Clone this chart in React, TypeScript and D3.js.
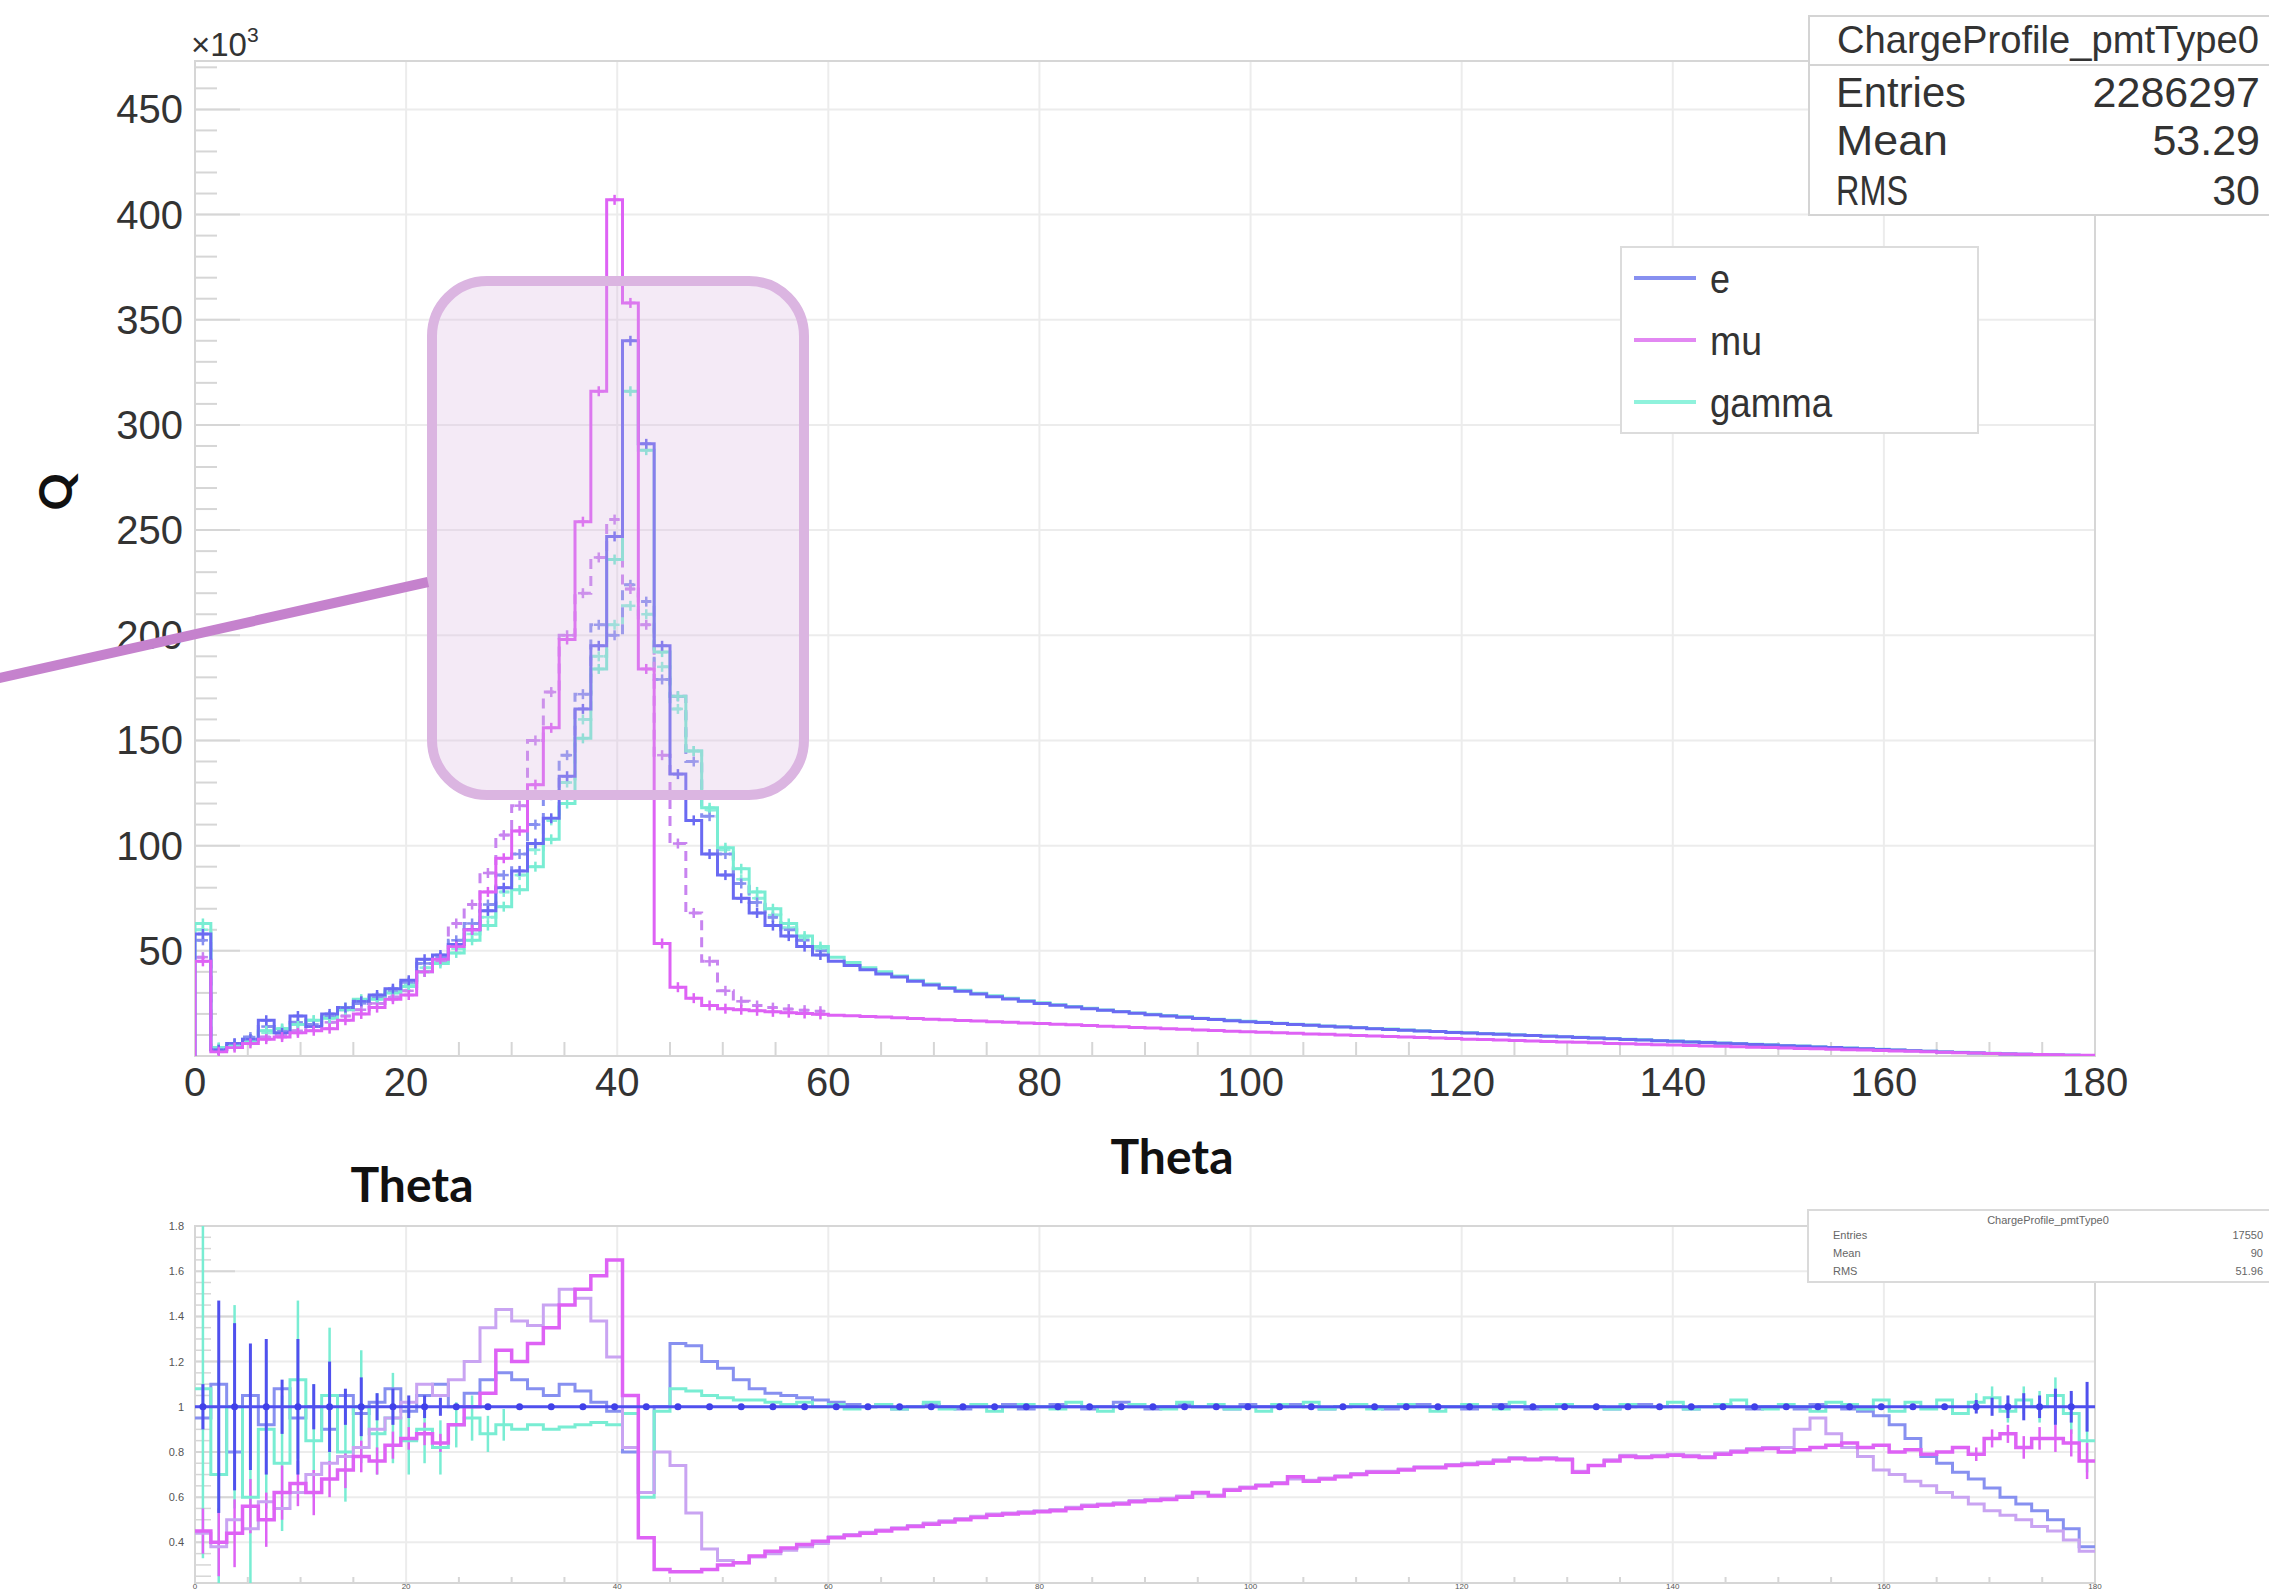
import React from "react";
import * as d3 from "d3";

// ---------------- data ----------------
const binWidth = 1.5; // degrees per bin, 120 bins over 0..180
const xTickValues = [0, 20, 40, 60, 80, 100, 120, 140, 160, 180];
const yTickValues = [50, 100, 150, 200, 250, 300, 350, 400, 450];
const ratioTickValues = [0.4, 0.6, 0.8, 1, 1.2, 1.4, 1.6, 1.8];
const legendLabels = ["e", "mu", "gamma"];
const statsRows = [
  ["Entries", "2286297"],
  ["Mean", "53.29"],
  ["RMS", "30"],
];
const statsRowsLower = [
  ["Entries", "17550"],
  ["Mean", "90"],
  ["RMS", "51.96"],
];

// main plot (values in units of 10^3)
const muSolid = [
  45, 2, 4, 6, 8, 9, 11, 12, 13, 17,
  20, 23, 27, 29, 40, 46, 52, 60, 78, 94,
  107, 129, 156, 198, 254, 316, 407, 358, 184, 53.5,
  32.7, 27.5, 24, 22.5, 22, 21.5, 21, 20.6, 20.2, 19.8,
  19.4, 19.1, 18.8, 18.5, 18.2, 17.8, 17.5, 17.2, 16.9, 16.6,
  16.3, 16.0, 15.7, 15.4, 15.1, 14.8, 14.5, 14.2, 13.9, 13.6,
  13.3, 13.0, 12.7, 12.4, 12.1, 11.8, 11.5, 11.3, 11.0, 10.8,
  10.5, 10.3, 10.0, 9.8, 9.5, 9.3, 9.0, 8.8, 8.5, 8.3,
  8.0, 7.8, 7.6, 7.4, 7.1, 6.9, 6.7, 6.5, 6.3, 6.0,
  5.8, 5.6, 5.4, 5.2, 5.0, 4.8, 4.6, 4.4, 4.2, 4.0,
  3.8, 3.6, 3.4, 3.2, 3.0, 2.8, 2.6, 2.4, 2.2, 2.0,
  1.8, 1.6, 1.4, 1.2, 1.0, 0.85, 0.7, 0.55, 0.4, 0.3,
];
const eSolid = [
  58, 3, 6, 8, 17, 11, 19, 14, 20, 23,
  26, 29, 32, 36, 46, 48, 53, 60, 69, 80,
  88, 101, 113, 133, 165, 195, 247, 340, 291, 195,
  134, 112, 96, 86, 75, 68, 62, 57, 52, 48,
  45, 43, 41, 39, 37.5, 35.5, 33.8, 32.2, 30.8, 29.5,
  28.2, 27.1, 26.0, 25.0, 24.1, 23.3, 22.5, 21.7, 21.0, 20.3,
  19.6, 19.0, 18.4, 17.8, 17.3, 16.8, 16.3, 15.9, 15.4, 15.0,
  14.6, 14.2, 13.8, 13.4, 13.0, 12.6, 12.3, 11.9, 11.6, 11.2,
  10.9, 10.6, 10.3, 10.0, 9.7, 9.4, 9.1, 8.8, 8.5, 8.2,
  7.9, 7.6, 7.3, 7.0, 6.7, 6.4, 6.1, 5.8, 5.5, 5.2,
  4.9, 4.6, 4.3, 4.0, 3.7, 3.4, 3.1, 2.8, 2.5, 2.2,
  1.95, 1.7, 1.45, 1.2, 1.0, 0.8, 0.6, 0.45, 0.3, 0.15,
];
const gammaSolid = [
  63, 4, 5, 7, 12, 13, 15, 17, 18, 22,
  27, 27, 30, 33, 40, 44, 49, 55, 62, 71,
  79, 90, 103, 120, 151, 184, 236, 316, 288, 192,
  171, 145, 118, 99, 89, 78, 70, 63, 57, 52,
  47, 44.5, 42, 40, 38, 36, 34.2, 32.6, 31.2, 29.8,
  28.6, 27.4, 26.3, 25.3, 24.4, 23.5, 22.7, 21.9, 21.2, 20.5,
  19.8, 19.2, 18.6, 18.0, 17.5, 17.0, 16.5, 16.0, 15.6, 15.1,
  14.7, 14.3, 13.9, 13.5, 13.1, 12.8, 12.4, 12.0, 11.7, 11.3,
  11.0, 10.7, 10.4, 10.1, 9.8, 9.5, 9.2, 8.9, 8.6, 8.3,
  8.0, 7.7, 7.4, 7.1, 6.8, 6.5, 6.2, 5.9, 5.6, 5.3,
  5.0, 4.7, 4.4, 4.1, 3.8, 3.5, 3.2, 2.9, 2.6, 2.3,
  2.0, 1.75, 1.5, 1.25, 1.05, 0.85, 0.65, 0.5, 0.35, 0.2,
];
// dashed companions, visible over 0..60 degrees (40 bins)
const muDashed = [
  47, 3, 5, 7, 9, 10, 12, 14, 16, 19,
  22, 25, 28, 31, 40, 45, 63, 72, 87, 105,
  119, 150, 173, 200, 220, 237, 255, 222, 205, 143,
  101, 68, 45, 31, 26, 24, 23, 22.3, 21.8, 21.3,
];
const eDashed = [
  55, 3, 6, 9, 14, 12, 16, 15, 19, 22,
  25, 28, 31, 35, 44, 47, 55, 63, 72, 86,
  96, 110, 124, 143, 172, 205, 200, 224, 216, 179,
  171, 140, 114, 96, 82, 73, 66, 60, 55, 50,
];
const gammaDashed = [
  60, 4, 5, 8, 11, 13, 15, 17, 19, 23,
  26, 28, 31, 34, 42, 45, 51, 58, 66, 78,
  86, 98, 112, 130, 160, 190, 205, 214, 210, 185,
  165, 145, 117, 98, 84, 75, 67, 61, 56, 51,
];

// lower (ratio) plot
const ratioMu = [
  0.45, 0.40, 0.44, 0.56, 0.50, 0.62, 0.66, 0.62, 0.68, 0.72,
  0.78, 0.76, 0.83, 0.86, 0.88, 0.84, 0.92, 1.0, 1.06, 1.25,
  1.2, 1.28, 1.35, 1.45, 1.52, 1.58, 1.65, 1.05, 0.42, 0.28,
  0.27, 0.27, 0.28, 0.30, 0.31, 0.34, 0.36, 0.375, 0.39, 0.405,
  0.42, 0.43, 0.44, 0.45, 0.46, 0.47, 0.48, 0.49, 0.50, 0.51,
  0.52, 0.525, 0.53, 0.535, 0.54, 0.55, 0.56, 0.565, 0.57, 0.58,
  0.585, 0.59, 0.60, 0.62, 0.605, 0.63, 0.64, 0.65, 0.66, 0.69,
  0.67, 0.68, 0.69, 0.70, 0.71, 0.71, 0.72, 0.73, 0.73, 0.74,
  0.745, 0.75, 0.76, 0.77, 0.765, 0.77, 0.765, 0.71, 0.74, 0.76,
  0.78, 0.775, 0.78, 0.785, 0.78, 0.775, 0.79, 0.80, 0.81, 0.815,
  0.80, 0.81, 0.82, 0.83, 0.84, 0.82, 0.83, 0.80, 0.81, 0.79,
  0.80, 0.82, 0.79, 0.86, 0.88, 0.82, 0.86, 0.86, 0.84, 0.76,
];
const ratioMuDashed = [
  0.44, 0.38, 0.50, 0.46, 0.58, 0.55, 0.62, 0.70, 0.75, 0.78,
  0.82, 0.90, 0.95, 1.02, 1.10, 1.05, 1.12, 1.20, 1.35, 1.43,
  1.38, 1.36, 1.45, 1.52, 1.48, 1.38, 1.22, 0.82, 0.62, 0.80,
  0.74, 0.53, 0.37, 0.32, 0.31, 0.335, 0.35, 0.365, 0.38, 0.395,
  0.425, 0.435, 0.445, 0.455, 0.465, 0.475, 0.485, 0.495, 0.505, 0.515,
  0.525, 0.53, 0.535, 0.54, 0.545, 0.555, 0.565, 0.57, 0.575, 0.585,
  0.59, 0.595, 0.605, 0.615, 0.61, 0.635, 0.645, 0.655, 0.665, 0.68,
  0.675, 0.685, 0.695, 0.705, 0.715, 0.715, 0.725, 0.735, 0.735, 0.745,
  0.75, 0.755, 0.765, 0.775, 0.77, 0.775, 0.77, 0.715, 0.74, 0.765,
  0.785, 0.78, 0.785, 0.79, 0.785, 0.78, 0.795, 0.805, 0.815, 0.82,
  0.82, 0.90, 0.95, 0.88, 0.82, 0.78, 0.72, 0.70, 0.67, 0.65,
  0.62, 0.60, 0.57, 0.54, 0.52, 0.50, 0.47, 0.45, 0.41, 0.36,
];
const ratioGamma = [
  1.08, 0.70, 1.00, 0.60, 0.90, 0.75, 1.12, 0.85, 1.05, 0.80,
  1.00, 0.88, 0.95, 0.85, 0.90, 0.82, 0.92, 0.95, 0.88, 0.92,
  0.90, 0.92, 0.90, 0.91, 0.92, 0.93, 0.92, 0.97, 0.60, 0.98,
  1.08, 1.07, 1.05, 1.04, 1.03, 1.03, 1.02, 1.01, 1.02, 1.00,
  1.01, 0.99, 1.00, 1.01, 0.99, 1.00, 1.02, 0.99, 1.00, 1.01,
  0.98, 1.00, 1.01, 1.00, 0.99, 1.02, 1.00, 0.98, 1.00, 1.01,
  1.00, 0.99, 1.02, 1.00, 1.01, 0.99, 1.00, 0.98, 1.01, 1.00,
  1.02, 0.99, 1.00, 1.01, 0.99, 1.00, 1.01, 1.00, 0.98, 1.00,
  1.01, 1.00, 0.99, 1.02, 1.00, 0.99, 1.01, 1.00, 1.00, 0.99,
  1.01, 1.00, 1.00, 1.02, 0.99, 1.00, 1.01, 1.03, 1.00, 0.99,
  1.01, 1.00, 0.98, 1.02, 1.01, 0.99, 1.03, 0.98, 1.02, 0.99,
  1.03, 0.97, 1.02, 1.04, 0.98, 1.03, 1.00, 1.05, 0.97, 0.85,
];
const ratioEDashed = [
  0.95, 1.10, 0.80, 1.05, 0.92, 1.08, 0.95, 1.00, 0.90, 1.05,
  0.97, 1.02, 1.08, 0.98, 1.05, 1.10, 1.00, 1.06, 1.12, 1.15,
  1.12, 1.08, 1.05, 1.10, 1.07, 1.02, 0.98, 0.80, 0.62, 1.00,
  1.28, 1.27, 1.20, 1.17, 1.12, 1.08, 1.06, 1.05, 1.04, 1.03,
  1.02, 1.01, 1.00, 1.01, 0.99, 1.00, 1.01, 1.00, 0.99, 1.00,
  1.00, 1.01, 0.99, 1.00, 1.01, 1.00, 0.99, 1.00, 1.02, 1.00,
  0.99, 1.00, 1.01, 1.00, 1.00, 0.99, 1.01, 1.00, 1.00, 1.01,
  1.00, 0.99, 1.00, 1.01, 1.00, 0.99, 1.00, 1.01, 1.00, 1.00,
  0.99, 1.00, 1.01, 1.00, 0.99, 1.00, 1.01, 1.00, 1.00, 0.99,
  1.00, 1.01, 1.00, 1.00, 0.99, 1.00, 1.01, 1.00, 0.99, 1.00,
  1.00, 0.99, 1.01, 1.00, 0.99, 0.98, 0.96, 0.92, 0.86, 0.78,
  0.75, 0.71, 0.68, 0.64, 0.60, 0.57, 0.54, 0.50, 0.46, 0.38,
];
// error bar half-sizes: first bins and last bins (index 112..119)
const errEFirst = [0.1, 0.47, 0.37, 0.28, 0.3, 0.12, 0.3, 0.1, 0.2, 0.08, 0.13, 0.06, 0.08, 0.05, 0.05, 0.04];
const errGammaFirst = [0.75, 0.5, 0.45, 0.4, 0.35, 0.3, 0.35, 0.25, 0.3, 0.22, 0.25, 0.18, 0.2, 0.15, 0.15, 0.12, 0.1, 0.1, 0.08, 0.07];
const errMuFirst = [0.1, 0.15, 0.15, 0.12, 0.12, 0.12, 0.1, 0.1, 0.08, 0.08, 0.07, 0.06, 0.06, 0.05, 0.05, 0.04];
const lastErrStart = 112;
const errELast = [0.03, 0.04, 0.05, 0.06, 0.05, 0.08, 0.07, 0.11];
const errGammaLast = [0.04, 0.05, 0.05, 0.06, 0.07, 0.08, 0.09, 0.14];
const errMuLast = [0.03, 0.04, 0.04, 0.05, 0.05, 0.06, 0.06, 0.08];

// ---------------- styles ----------------
const C_E = "#6a6af2";
const C_MU = "#de62f5";
const C_G = "#79edd3";
const C_E_D = "#8790f0";
const C_MU_D = "#c884f0";
const C_G_D = "#8cefda";
const C_MU_R2 = "#c9a4f2";
const GRID = "#ececec";
const AXIS = "#d6d6d6";
const FONT = "'Liberation Sans', Arial, Helvetica, sans-serif";
const TITLE_FONT = "Lato, 'Open Sans', sans-serif";

type Pt = [number, number];

function histPoints(vals: number[], closed: boolean): Pt[] {
  const pts: Pt[] = [];
  if (closed) pts.push([0, 0]);
  vals.forEach((v, i) => {
    pts.push([i * binWidth, v]);
    pts.push([(i + 1) * binWidth, v]);
  });
  if (closed) pts.push([vals.length * binWidth, 0]);
  return pts;
}

export default function App() {
  const x = d3.scaleLinear().domain([0, 180]).range([195, 2095]);
  const y = d3.scaleLinear().domain([0, 473]).range([1056, 61]);
  const yR = d3.scaleLinear().domain([0.22, 1.8]).range([1583, 1226]);

  const lineMain = d3.line<Pt>().x((d) => x(d[0])).y((d) => y(d[1]));
  const lineR = d3.line<Pt>().x((d) => x(d[0])).y((d) => yR(d[1]));

  const minorY = d3.range(10, 471, 10).filter((v) => v % 50 !== 0);
  const minorX = d3.range(0, 181, 5).filter((v) => v % 20 !== 0);
  const minorYR = d3.range(0.25, 1.8, 0.05).filter((v) => Math.abs(v * 5 - Math.round(v * 5)) > 0.01);

  const ratioE = eSolid.map((v) => v / v);

  const mainSeries = [
    { vals: gammaDashed, color: C_G_D, dash: "10 7", closed: false },
    { vals: eDashed, color: C_E_D, dash: "10 7", closed: false },
    { vals: muDashed, color: C_MU_D, dash: "10 7", closed: false },
    { vals: gammaSolid, color: C_G, dash: undefined, closed: true },
    { vals: eSolid, color: C_E, dash: undefined, closed: true },
    { vals: muSolid, color: C_MU, dash: undefined, closed: true },
  ];

  const markerSeries = [
    { vals: gammaDashed, color: C_G_D },
    { vals: eDashed, color: C_E_D },
    { vals: muDashed, color: C_MU_D },
    { vals: gammaSolid.slice(0, 40), color: C_G },
    { vals: eSolid.slice(0, 40), color: C_E },
    { vals: muSolid.slice(0, 40), color: C_MU },
  ];

  const errBars = (vals: number[], first: number[], last: number[]) => {
    const out: { i: number; v: number; e: number }[] = [];
    first.forEach((e, i) => out.push({ i, v: vals[i], e }));
    last.forEach((e, j) => out.push({ i: lastErrStart + j, v: vals[lastErrStart + j], e }));
    return out;
  };

  return (
    <svg
      width={2269}
      height={1590}
      style={{ position: "absolute", left: 0, top: 0, display: "block", background: "#fff" }}
    >
      <defs>
        <clipPath id="mainClip">
          <rect x={195} y={61} width={1900} height={995} />
        </clipPath>
        <clipPath id="lowClip">
          <rect x={195} y={1226} width={1900} height={357} />
        </clipPath>
      </defs>
      <rect x={0} y={0} width={2269} height={1590} fill="#fff" />

      {/* ---------- main plot grid & frame ---------- */}
      <g>
        {yTickValues.map((v) => (
          <line key={"gy" + v} x1={x(0)} x2={x(180)} y1={y(v)} y2={y(v)} stroke={GRID} strokeWidth={2} />
        ))}
        {xTickValues.map((v) => (
          <line key={"gx" + v} x1={x(v)} x2={x(v)} y1={y(0)} y2={61} stroke={GRID} strokeWidth={2} />
        ))}
        <rect x={195} y={61} width={1900} height={995} fill="none" stroke={AXIS} strokeWidth={2} />
        {yTickValues.map((v) => (
          <line key={"ty" + v} x1={x(0)} x2={x(0) + 45} y1={y(v)} y2={y(v)} stroke={AXIS} strokeWidth={2} />
        ))}
        {minorY.map((v) => (
          <line key={"my" + v} x1={x(0)} x2={x(0) + 22} y1={y(v)} y2={y(v)} stroke={AXIS} strokeWidth={2} />
        ))}
        {minorX.map((v) => (
          <line key={"mx" + v} x1={x(v)} x2={x(v)} y1={y(0)} y2={y(0) - 14} stroke={AXIS} strokeWidth={2} />
        ))}
        {yTickValues.map((v) => (
          <text key={"ly" + v} x={183} y={y(v) + 14} fontSize={40} fontFamily={FONT} fill="#333" textAnchor="end">
            {v}
          </text>
        ))}
        {xTickValues.map((v) => (
          <text key={"lx" + v} x={x(v)} y={1096} fontSize={40} fontFamily={FONT} fill="#333" textAnchor="middle">
            {v}
          </text>
        ))}
        <text x={191} y={56} fontSize={33} fontFamily={FONT} fill="#333">
          ×10
          <tspan fontSize={21} dy={-14}>3</tspan>
        </text>
      </g>

      {/* ---------- main histograms ---------- */}
      <g clipPath="url(#mainClip)">
        {mainSeries.map((s, k) => (
          <path
            key={"h" + k}
            d={lineMain(histPoints(s.vals, s.closed)) || ""}
            fill="none"
            stroke={s.color}
            strokeWidth={3}
            strokeDasharray={s.dash}
          />
        ))}
        {markerSeries.map((s, k) => (
          <g key={"m" + k}>
            {s.vals.map((v, i) => {
              const cx = x((i + 0.5) * binWidth);
              const cy = y(v);
              return (
                <g key={i} stroke={s.color} strokeWidth={2.5}>
                  <line x1={cx - 5} x2={cx + 5} y1={cy} y2={cy} />
                  <line x1={cx} x2={cx} y1={cy - 5} y2={cy + 5} />
                </g>
              );
            })}
          </g>
        ))}
      </g>

      {/* ---------- highlight annotation ---------- */}
      <rect
        x={432}
        y={281}
        width={372}
        height={514}
        rx={55}
        ry={55}
        fill="rgba(214,178,222,0.28)"
        stroke="#dbb5e1"
        strokeWidth={10}
      />
      <line x1={-5} y1={679} x2={428} y2={582} stroke="#c582cd" strokeWidth={10} />

      {/* ---------- axis titles ---------- */}
      <text
        transform="translate(72,492) rotate(-90)"
        fontSize={46}
        fontFamily={TITLE_FONT}
        fontWeight={700}
        fill="#111"
        textAnchor="middle"
      >
        Q
      </text>
      <text x={1172} y={1174} fontSize={48} fontFamily={TITLE_FONT} fontWeight={700} fill="#111" textAnchor="middle">
        Theta
      </text>
      <text x={412} y={1202} fontSize={48} fontFamily={TITLE_FONT} fontWeight={700} fill="#111" textAnchor="middle">
        Theta
      </text>

      {/* ---------- legend ---------- */}
      <g>
        <rect x={1621} y={247} width={357} height={186} fill="#fff" stroke="#dcdcdc" strokeWidth={2} />
        {legendLabels.map((lab, i) => {
          const cy = 278 + i * 62;
          const col = [C_E_D, "#e288f2", "#8ff2dc"][i];
          const tl = [20, 52, 122][i];
          return (
            <g key={lab}>
              <line x1={1634} x2={1696} y1={cy} y2={cy} stroke={col} strokeWidth={4} />
              <text x={1710} y={cy + 15} fontSize={40} fontFamily={FONT} fill="#333" textLength={tl} lengthAdjust="spacingAndGlyphs">
                {lab}
              </text>
            </g>
          );
        })}
      </g>

      {/* ---------- stats box (main) ---------- */}
      <g>
        <rect x={1809} y={16} width={480} height={199} fill="#fff" stroke="#d4d4d4" strokeWidth={2} />
        <line x1={1809} x2={2269} y1={65} y2={65} stroke="#d4d4d4" strokeWidth={2} />
        <text x={2048} y={53} fontSize={39} fontFamily={FONT} fill="#333" textAnchor="middle" textLength={422} lengthAdjust="spacingAndGlyphs">
          ChargeProfile_pmtType0
        </text>
        {statsRows.map((r, i) => {
          const by = [107, 155, 205][i];
          return (
            <g key={r[0]}>
              <text x={1836} y={by} fontSize={43} fontFamily={FONT} fill="#333" textLength={[130, 112, 72][i]} lengthAdjust="spacingAndGlyphs">
                {r[0]}
              </text>
              <text x={2260} y={by} fontSize={43} fontFamily={FONT} fill="#333" textAnchor="end">
                {r[1]}
              </text>
            </g>
          );
        })}
      </g>

      {/* ---------- lower ratio plot ---------- */}
      <g>
        {ratioTickValues.map((v) => (
          <line key={"rgy" + v} x1={x(0)} x2={x(180)} y1={yR(v)} y2={yR(v)} stroke={GRID} strokeWidth={2} />
        ))}
        {xTickValues.map((v) => (
          <line key={"rgx" + v} x1={x(v)} x2={x(v)} y1={1226} y2={1583} stroke={GRID} strokeWidth={2} />
        ))}
        <rect x={195} y={1226} width={1900} height={357} fill="none" stroke={AXIS} strokeWidth={2} />
        {ratioTickValues.map((v) => (
          <line key={"rty" + v} x1={x(0)} x2={x(0) + 40} y1={yR(v)} y2={yR(v)} stroke={AXIS} strokeWidth={2} />
        ))}
        {minorYR.map((v, i) => (
          <line key={"rmy" + i} x1={x(0)} x2={x(0) + 16} y1={yR(v)} y2={yR(v)} stroke={AXIS} strokeWidth={1.5} />
        ))}
        {minorX.map((v) => (
          <line key={"rmx" + v} x1={x(v)} x2={x(v)} y1={1583} y2={1577} stroke={AXIS} strokeWidth={2} />
        ))}
        {ratioTickValues.map((v) => (
          <text key={"rly" + v} x={184} y={yR(v) + 4} fontSize={11} fontFamily={FONT} fill="#555" textAnchor="end">
            {String(v)}
          </text>
        ))}
        {xTickValues.map((v) => (
          <text key={"rlx" + v} x={x(v)} y={1589} fontSize={8} fontFamily={FONT} fill="#555" textAnchor="middle">
            {v}
          </text>
        ))}
      </g>
      <g clipPath="url(#lowClip)">
        {errBars(ratioGamma, errGammaFirst, errGammaLast).map((b) => (
          <line key={"eg" + b.i} x1={x((b.i + 0.5) * binWidth)} x2={x((b.i + 0.5) * binWidth)} y1={yR(b.v - b.e)} y2={yR(b.v + b.e)} stroke={C_G} strokeWidth={2.5} />
        ))}
        {errBars(ratioMu, errMuFirst, errMuLast).map((b) => (
          <line key={"em" + b.i} x1={x((b.i + 0.5) * binWidth)} x2={x((b.i + 0.5) * binWidth)} y1={yR(b.v - b.e)} y2={yR(b.v + b.e)} stroke={C_MU} strokeWidth={2.5} />
        ))}
        <path d={lineR(histPoints(ratioEDashed, false)) || ""} fill="none" stroke={C_E_D} strokeWidth={3} />
        <path d={lineR(histPoints(ratioGamma, false)) || ""} fill="none" stroke={C_G} strokeWidth={3} />
        <path d={lineR(histPoints(ratioMuDashed, false)) || ""} fill="none" stroke={C_MU_R2} strokeWidth={3} />
        <path d={lineR(histPoints(ratioMu, false)) || ""} fill="none" stroke={C_MU} strokeWidth={3.5} />
        <path d={lineR(histPoints(ratioE, false)) || ""} fill="none" stroke="#5050ee" strokeWidth={3} />
        {errBars(ratioE, errEFirst, errELast).map((b) => (
          <line key={"ee" + b.i} x1={x((b.i + 0.5) * binWidth)} x2={x((b.i + 0.5) * binWidth)} y1={yR(b.v - b.e)} y2={yR(b.v + b.e)} stroke="#5050ee" strokeWidth={3} />
        ))}
        {ratioE.map((v, i) =>
          i % 2 === 0 ? (
            <circle key={"re" + i} cx={x((i + 0.5) * binWidth)} cy={yR(v)} r={3.5} fill="#4040e8" />
          ) : null
        )}
      </g>

      {/* ---------- stats box (lower) ---------- */}
      <g>
        <rect x={1808} y={1210} width={480} height={72} fill="#fff" stroke="#dadada" strokeWidth={2} />
        <text x={2048} y={1224} fontSize={11} fontFamily={FONT} fill="#666" textAnchor="middle">
          ChargeProfile_pmtType0
        </text>
        {statsRowsLower.map((r, i) => {
          const by = [1239, 1257, 1275][i];
          return (
            <g key={r[0]}>
              <text x={1833} y={by} fontSize={11} fontFamily={FONT} fill="#666">
                {r[0]}
              </text>
              <text x={2263} y={by} fontSize={11} fontFamily={FONT} fill="#666" textAnchor="end">
                {r[1]}
              </text>
            </g>
          );
        })}
      </g>
    </svg>
  );
}
